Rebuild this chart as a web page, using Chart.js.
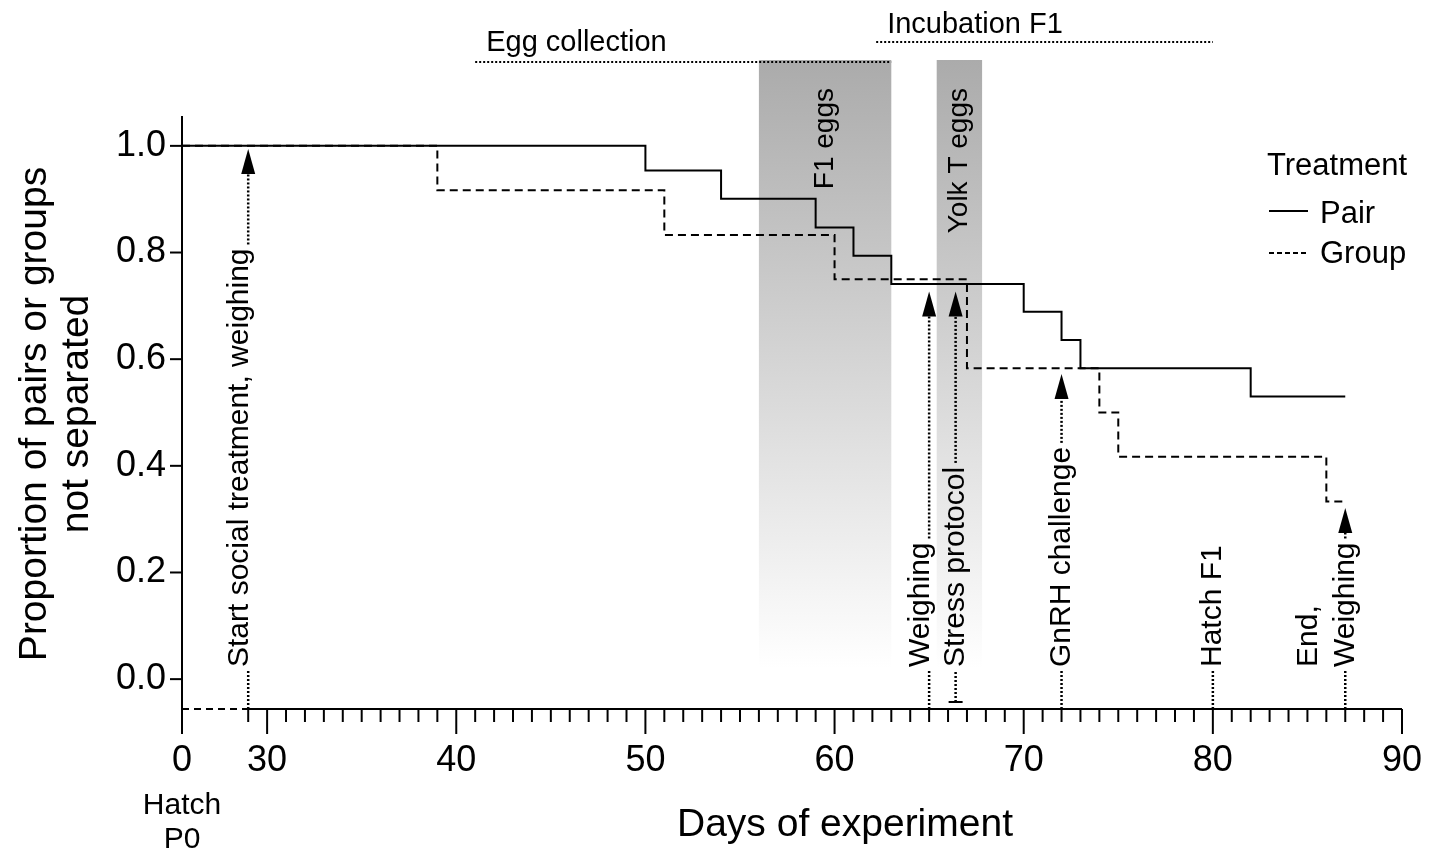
<!DOCTYPE html>
<html>
<head>
<meta charset="utf-8">
<script src="https://cdn.jsdelivr.net/npm/chart.js@4/dist/chart.umd.min.js"></script>
<style>
  html, body { margin: 0; padding: 0; background: #fff; }
</style>
</head>
<body>
<canvas id="chart" width="1440" height="851"></canvas>
<script>
// proportion of pairs / groups not separated (Kaplan-Meier steps)
const pairDays = [0, 50, 54, 59, 61, 63, 70, 72, 73, 82, 87];
const pairProp = [1.0, 0.954, 0.901, 0.847, 0.794, 0.741, 0.689, 0.636, 0.583, 0.530, 0.530];
const groupDays = [0, 39, 51, 60, 67, 74, 75, 86, 87];
const groupProp = [1.0, 0.917, 0.833, 0.750, 0.583, 0.500, 0.417, 0.333, 0.333];
const seriesNames = ['Pair', 'Group'];

// events marked along the day axis
const eventDays = [29, 65, 66.4, 72, 80, 87];
const eventArrowTo = [0.994, 0.727, 0.727, 0.572, null, 0.321];
const eventLabels = [
    ['Start social treatment, weighing'],
    ['Weighing'],
    ['Stress protocol'],
    ['GnRH challenge'],
    ['Hatch F1'],
    ['End,', 'Weighing']
];

// shaded periods
const bandNames = ['F1 eggs', 'Yolk T eggs'];
const bandStart = [56, 65.4];
const bandEnd = [63, 67.8];

// periods shown above the plot
const periodNames = ['Egg collection', 'Incubation F1'];
const periodStart = [41, 62.2];
const periodEnd = [63, 80];

const yTicks = [0, 0.2, 0.4, 0.6, 0.8, 1.0];
const xLast = 90;
const axisBreak = 29;   // days 0..29 are squeezed in front of the break
const xZero = 25.5;     // where day 0 sits on the axis

function xPos(day) {
    return day < axisBreak ? xZero + day / axisBreak * (axisBreak - xZero) : day;
}

const FAMILY = '"Liberation Sans", Arial, Helvetica, sans-serif';
const font = px => px + 'px ' + FAMILY;

// per-event drawing tweaks
const eventStyle = [
    { shift: -8 }, { shift: -8 }, { shift: 0, foot: true },
    { shift: 0 }, { shift: 0 }, { shift: 0 }
];
const periodStyle = [{ lineY: 62, textY: 51 }, { lineY: 42, textY: 33 }];

function line(ctx, x0, y0, x1, y1) {
    ctx.beginPath();
    ctx.moveTo(x0, y0);
    ctx.lineTo(x1, y1);
    ctx.stroke();
}

function rotatedText(ctx, text, x, y, align) {
    ctx.save();
    ctx.translate(x, y);
    ctx.rotate(-Math.PI / 2);
    ctx.textAlign = align;
    ctx.textBaseline = 'middle';
    ctx.fillText(text, 0, 0);
    ctx.restore();
}

const decorations = {
    id: 'decorations',
    beforeDatasetsDraw(chart) {
        const { ctx, scales: { x, y } } = chart;
        ctx.save();
        const top = 60, bottom = y.getPixelForValue(0.02);
        bandNames.forEach((name, i) => {
            const x0 = x.getPixelForValue(xPos(bandStart[i]));
            const x1 = x.getPixelForValue(xPos(bandEnd[i]));
            const g = ctx.createLinearGradient(0, top, 0, bottom);
            g.addColorStop(0, '#ababab');
            g.addColorStop(1, '#ffffff');
            ctx.fillStyle = g;
            ctx.fillRect(x0, top, x1 - x0, bottom - top);
            ctx.fillStyle = '#000';
            ctx.font = font(28);
            rotatedText(ctx, name, (x0 + x1) / 2, 88, 'right');
        });
        ctx.restore();
    },
    afterDraw(chart) {
        const { ctx, chartArea, scales: { x, y } } = chart;
        const left = x.getPixelForValue(xZero);
        const brk = x.getPixelForValue(axisBreak);
        const right = x.getPixelForValue(xLast);
        const base = chartArea.bottom;
        ctx.save();
        ctx.strokeStyle = '#000';
        ctx.fillStyle = '#000';
        ctx.lineWidth = 2;

        // axes
        line(ctx, left, chartArea.top, left, base);
        yTicks.forEach(v => {
            const py = y.getPixelForValue(v);
            line(ctx, left - 12, py, left, py);
        });
        ctx.setLineDash([7, 5]);
        line(ctx, left, base, brk, base);
        ctx.setLineDash([]);
        line(ctx, brk, base, right, base);
        x.ticks.forEach(t => {
            const px = x.getPixelForValue(t.value);
            const major = t.value === xZero || t.value % 10 === 0;
            line(ctx, px, base, px, base + (major ? 25 : 13));
        });

        // events
        ctx.font = font(30);
        const textBottom = base - 42;
        eventDays.forEach((d, i) => {
            const px = x.getPixelForValue(xPos(d));
            const st = eventStyle[i];
            const lines = eventLabels[i];
            const w = Math.max(...lines.map(s => ctx.measureText(s).width));
            const textTop = textBottom - w;
            lines.forEach((s, k) => {
                const off = (lines.length - 1 - k) * 37;
                rotatedText(ctx, s, px + st.shift - off, textBottom, 'left');
            });
            ctx.lineWidth = 2.5;
            ctx.setLineDash([2, 2]);
            const foot = st.foot ? base - 7 : base;
            line(ctx, px, foot, px, textBottom + 3);
            if (eventArrowTo[i] !== null) {
                const tip = y.getPixelForValue(eventArrowTo[i]);
                line(ctx, px, textTop - 4, px, tip + 22);
                ctx.setLineDash([]);
                ctx.beginPath();
                ctx.moveTo(px, tip);
                ctx.lineTo(px - 7, tip + 25);
                ctx.lineTo(px + 7, tip + 25);
                ctx.closePath();
                ctx.fill();
            }
            ctx.setLineDash([]);
            ctx.lineWidth = 2;
            if (st.foot) line(ctx, px - 7, foot, px + 7, foot);
        });

        // periods above the plot
        ctx.font = font(29);
        ctx.textAlign = 'left';
        ctx.textBaseline = 'alphabetic';
        periodNames.forEach((name, i) => {
            const x0 = x.getPixelForValue(xPos(periodStart[i]));
            const x1 = x.getPixelForValue(xPos(periodEnd[i]));
            ctx.fillText(name, x0 + 11, periodStyle[i].textY);
            ctx.lineWidth = 2;
            ctx.setLineDash([2, 2]);
            line(ctx, x0, periodStyle[i].lineY, x1, periodStyle[i].lineY);
            ctx.setLineDash([]);
        });

        // legend
        ctx.font = font(31);
        ctx.fillText('Treatment', 1267, 175);
        ctx.lineWidth = 2;
        line(ctx, 1269, 211, 1308, 211);
        ctx.fillText(seriesNames[0], 1320, 223);
        ctx.setLineDash([5, 3]);
        line(ctx, 1269, 253, 1308, 253);
        ctx.setLineDash([]);
        ctx.fillText(seriesNames[1], 1320, 263);

        // axis titles
        ctx.font = font(39);
        rotatedText(ctx, 'Proportion of pairs or groups', 35, 414, 'center');
        rotatedText(ctx, 'not separated', 77, 414, 'center');
        ctx.textAlign = 'center';
        ctx.fillText('Days of experiment', 845, 836);
        ctx.font = font(30);
        ctx.fillText('Hatch', left, 814);
        ctx.fillText('P0', left, 848);
        ctx.restore();
    }
};

const toPoints = (days, vals) => days.map((d, i) => ({ x: xPos(d), y: vals[i] }));

new Chart(document.getElementById('chart'), {
    type: 'line',
    data: {
        datasets: [
            {
                label: seriesNames[0],
                data: toPoints(pairDays, pairProp),
                borderColor: '#000',
                borderWidth: 2,
                stepped: true,
                pointRadius: 0,
                fill: false
            },
            {
                label: seriesNames[1],
                data: toPoints(groupDays, groupProp),
                borderColor: '#000',
                borderWidth: 2,
                borderDash: [8, 5],
                stepped: true,
                pointRadius: 0,
                fill: false
            }
        ]
    },
    options: {
        responsive: false,
        animation: false,
        layout: { padding: { top: 116, right: 38, left: 0, bottom: 0 } },
        plugins: { legend: { display: false }, tooltip: { enabled: false } },
        scales: {
            x: {
                type: 'linear',
                min: xZero,
                max: xLast,
                afterBuildTicks: sc => {
                    const t = [{ value: xZero }];
                    for (let d = axisBreak; d <= xLast; d++) t.push({ value: d });
                    sc.ticks = t;
                },
                afterFit: sc => {
                    sc.height = 142;
                    sc.paddingLeft = 0;
                    sc.paddingRight = 0;
                },
                grid: { display: false, drawTicks: false },
                border: { display: false },
                ticks: {
                    autoSkip: false,
                    maxRotation: 0,
                    padding: 30,
                    color: '#000',
                    font: { size: 36, family: FAMILY },
                    callback: v => v === xZero ? '0' : (v % 10 === 0 ? String(v) : '')
                }
            },
            y: {
                min: -0.056,
                max: 1.056,
                afterBuildTicks: sc => { sc.ticks = yTicks.map(v => ({ value: v })); },
                afterFit: sc => { sc.width = 182; },
                grid: { display: false, drawTicks: false },
                border: { display: false },
                ticks: {
                    padding: 16,
                    color: '#000',
                    font: { size: 36, family: FAMILY },
                    callback: v => v.toFixed(1)
                }
            }
        }
    },
    plugins: [decorations]
});
</script>
</body>
</html>
